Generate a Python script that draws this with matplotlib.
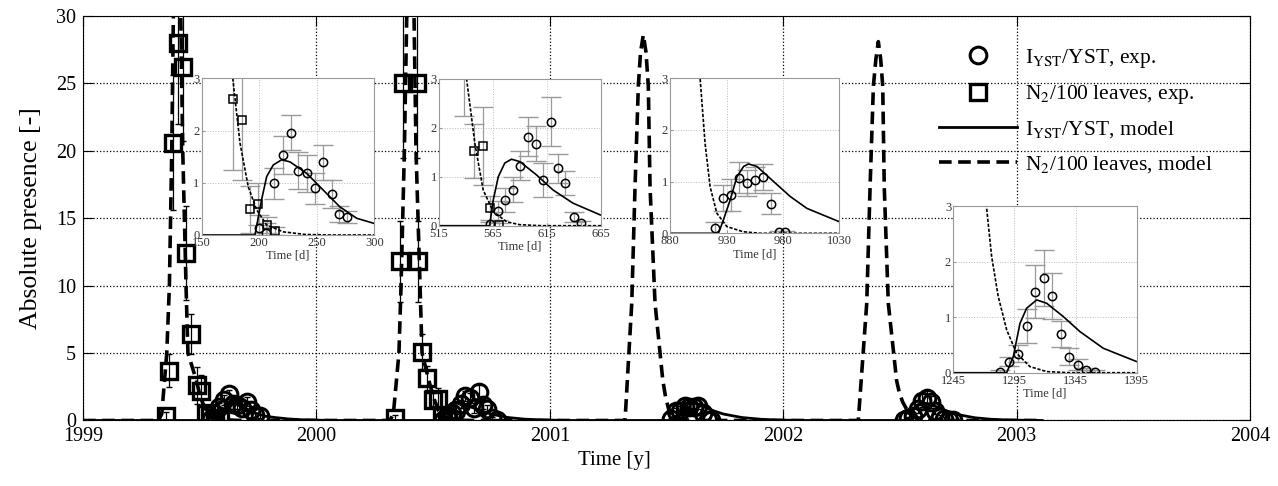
import matplotlib.pyplot as plt
import numpy as np

plt.rcParams['font.family'] = ['Liberation Serif', 'DejaVu Serif']
plt.rcParams['mathtext.fontset'] = 'stix'

# time axis of all series: days from 1 Jan 1999
# model N2/100 leaves (dashed)
n2_model_day = [0, 118, 123.1, 130.9, 135, 138.7, 141.2, 147, 152.8, 155.9, 161, 164,
                177, 183.3, 190.5, 197.8, 206.5, 220.9, 240, 260,
                480, 485.3, 494, 497.3, 502.5, 506.2, 511.4, 517.6, 520.7, 527, 530.1,
                540.6, 548.3, 556, 565.3, 577.7, 590, 610,
                847.6, 858.1, 863.2, 868.4, 871.8, 876.2, 880.4, 884, 886.7, 894.5,
                906.6, 911, 915.5, 921.4, 930.3, 944.7, 960,
                1212.4, 1225.6, 1230.8, 1236, 1239.9, 1243.7, 1247.4, 1250.6, 1253, 1259.3,
                1272.3, 1276.4, 1281.8, 1288.7, 1296.8, 1307.7, 1321.4, 1340, 1500]
n2_model = [0, 0, 0.5, 5, 10, 20, 30, 33, 30, 20, 10, 5,
            3.0, 1.76, 0.92, 0.48, 0.19, 0.06, 0.01, 0,
            0, 0.5, 5, 10, 20, 30, 33, 30, 20, 10, 5,
            3.0, 1.68, 0.73, 0.29, 0.08, 0.02, 0,
            0, 8.7, 17.3, 24.8, 27.3, 28.6, 27.3, 24.8, 17.3, 8.7,
            3.0, 1.74, 0.9, 0.39, 0.13, 0.03, 0,
            0, 8.7, 17.3, 24.8, 26.8, 28.1, 26.8, 24.8, 17.3, 8.7,
            2.96, 2.09, 1.37, 0.77, 0.35, 0.11, 0.02, 0, 0]

# model I_YST/YST (solid)
iyst_model_day = [0, 196.3, 202, 206.5, 212.2, 219.5, 226.7, 241.2, 255.6, 270, 284.7, 300,
                  320, 340, 370, 400,
                  562, 565.3, 570, 576, 582.3, 590, 605.4, 620.8, 639.4, 664.7, 690, 720, 760,
                  922.9, 927.3, 933.2, 939.2, 945.1, 949.5, 957, 971.7, 986.5, 1001.3, 1030.3,
                  1060, 1090, 1130,
                  1288.7, 1294.1, 1299.6, 1305, 1313.2, 1321.4, 1335, 1348.6, 1367.7, 1395,
                  1420, 1450, 1500]
iyst_model = [0, 0, 0.67, 1.12, 1.34, 1.44, 1.40, 1.18, 0.86, 0.54, 0.32, 0.22,
              0.12, 0.06, 0.02, 0,
              0, 0.52, 1.0, 1.28, 1.36, 1.31, 1.04, 0.73, 0.46, 0.22, 0.10, 0.04, 0,
              0, 0.26, 0.64, 1.09, 1.29, 1.34, 1.29, 1.0, 0.71, 0.48, 0.22,
              0.09, 0.03, 0,
              0, 0.29, 0.89, 1.16, 1.31, 1.25, 1.01, 0.74, 0.44, 0.20,
              0.09, 0.03, 0]

# measured N2/100 leaves
n2_day = [129.8, 134.5, 140.7, 148.6, 156.4, 161.0, 168.9, 177.5, 184.8, 192.0, 199.2, 206.5, 213.7,
          488.0, 495.7, 500.9, 521.8, 524.3, 530.1, 538.4, 547.7, 555.4, 562.0, 570.5]
n2_val = [0.3, 3.7, 20.6, 28.0, 26.2, 12.4, 6.4, 2.6, 2.2, 0.49, 0.59, 0.19, 0.08,
          0.2, 11.8, 25.0, 25.0, 11.8, 5.1, 3.15, 1.52, 1.63, 0.36, 0.01]
n2_err = [0.3, 1.2, 5.0, 6.0, 5.5, 3.5, 1.5, 1.35, 1.15, 0.45, 0.4, 0.15, 0.08,
          0.2, 3.0, 5.5, 5.5, 3.0, 1.3, 0.9, 0.55, 0.8, 0.25, 0.05]

# measured I_YST/YST
iyst_day = [200.0, 205.9, 213.1, 220.4, 227.6, 234.0, 241.2, 248.4, 255.6, 262.9, 269.3, 276.5,
            562.2, 569.9, 576.7, 583.8, 590.6, 597.7, 604.8, 611.6, 619.3, 625.5, 632.3, 640.0, 647.1,
            919.9, 926.8, 934.1, 941.2, 948.0, 955.4, 962.3, 969.3, 976.7, 982.0,
            1283.2, 1290.8, 1298.2, 1305.0, 1311.8, 1319.2, 1326.0, 1332.8, 1339.9, 1346.7, 1353.5, 1360.9]
iyst_val = [0.13, 0.03, 0.99, 1.53, 1.96, 1.23, 1.18, 0.89, 1.39, 0.79, 0.40, 0.34,
            0.03, 0.31, 0.53, 0.74, 1.23, 1.82, 1.68, 0.93, 2.13, 1.17, 0.87, 0.18, 0.05,
            0.10, 0.69, 0.74, 1.07, 0.97, 1.03, 1.08, 0.57, 0.02, 0.02,
            0.01, 0.20, 0.34, 0.84, 1.46, 1.70, 1.38, 0.70, 0.29, 0.14, 0.04, 0.02]
iyst_err = [0.25, 0.2, 0.3, 0.37, 0.33, 0.35, 0.35, 0.3, 0.33, 0.27, 0.15, 0.12,
            0.05, 0.2, 0.25, 0.25, 0.3, 0.4, 0.35, 0.35, 0.5, 0.3, 0.25, 0.1, 0.05,
            0.12, 0.25, 0.3, 0.3, 0.25, 0.25, 0.25, 0.2, 0.03, 0.03,
            0.03, 0.08, 0.15, 0.3, 0.47, 0.5, 0.42, 0.23, 0.15, 0.1, 0.05, 0.03]

inset_xticks = [[150, 200, 250, 300], [515, 565, 615, 665],
                [880, 930, 980, 1030], [1245, 1295, 1345, 1395]]
inset_rects = [[0.1578, 0.5165, 0.1351, 0.3224],
               [0.3435, 0.5356, 0.1265, 0.3019],
               [0.5243, 0.5200, 0.1325, 0.3195],
               [0.7459, 0.2331, 0.1435, 0.3430]]


def to_year(days):
    return 1999 + np.asarray(days) / 365.0


fig = plt.figure(figsize=(12.78, 4.86), dpi=100)
ax = fig.add_axes([0.0650, 0.1348, 0.9131, 0.8323])

ax.errorbar(to_year(n2_day), n2_val, yerr=n2_err, fmt='none', ecolor='k', elinewidth=0.9, capsize=2)
ax.errorbar(to_year(iyst_day), iyst_val, yerr=iyst_err, fmt='none', ecolor='k', elinewidth=0.9, capsize=2)
h_ci, = ax.plot(to_year(iyst_day), iyst_val, 'o', ms=12, mfc='none', mec='k', mew=2.2)
h_sq, = ax.plot(to_year(n2_day), n2_val, 's', ms=11, mfc='none', mec='k', mew=2.4)
h_im, = ax.plot(to_year(iyst_model_day), iyst_model, '-', color='k', lw=2)
h_nm, = ax.plot(to_year(n2_model_day), n2_model, '--', color='k', lw=2.6, dashes=(3.5, 1.8))

ax.set_xlim(1999, 2004)
ax.set_ylim(0, 30)
ax.set_xticks([1999, 2000, 2001, 2002, 2003, 2004])
ax.set_yticks([0, 5, 10, 15, 20, 25, 30])
ax.grid(True, linestyle=':', color='k', lw=0.9)
ax.tick_params(direction='in', length=7, top=True, right=True, labelsize=14.5, pad=5)
ax.set_xlabel('Time [y]', fontsize=15, labelpad=1)
ax.xaxis.set_label_coords(0.455, -0.075)
ax.set_ylabel('Absolute presence [-]', fontsize=18.5, labelpad=10)

ax.legend([h_ci, h_sq, h_im, h_nm],
          [r'I$_{\mathrm{YST}}$/YST, exp.', r'N$_2$/100 leaves, exp.',
           r'I$_{\mathrm{YST}}$/YST, model', r'N$_2$/100 leaves, model'],
          loc='upper right', bbox_to_anchor=(0.985, 0.972), frameon=False,
          fontsize=15.5, handlelength=3.6, handletextpad=0.4, labelspacing=0.62)

for ticks, rect in zip(inset_xticks, inset_rects):
    ins = fig.add_axes(rect)
    ins.set_facecolor('white')
    ins.errorbar(n2_day, n2_val, yerr=n2_err, fmt='none', ecolor='#9a9a9a', elinewidth=0.9, capsize=7.5)
    ins.errorbar(iyst_day, iyst_val, yerr=iyst_err, fmt='none', ecolor='#9a9a9a', elinewidth=0.9, capsize=7.5)
    ins.plot(iyst_model_day, iyst_model, '-', color='k', lw=1.2)
    ins.plot(n2_model_day, n2_model, '--', color='k', lw=1.2, dashes=(2, 1))
    ins.plot(n2_day, n2_val, 's', ms=5.5, mfc='none', mec='k', mew=1.1)
    ins.plot(iyst_day, iyst_val, 'o', ms=6, mfc='none', mec='k', mew=1.1)
    ins.set_xlim(ticks[0], ticks[-1])
    ins.set_ylim(0, 3)
    ins.set_xticks(ticks)
    ins.set_yticks([0, 1, 2, 3])
    ins.grid(True, linestyle=':', color='#bbbbbb', lw=0.7)
    for s in ins.spines.values():
        s.set_color('#999999')
    ins.tick_params(direction='in', length=2, color='#999999', labelsize=9,
                    labelcolor='#333333', pad=1.5)
    ins.set_xlabel('Time [d]', fontsize=9, color='#333333', labelpad=0.5)

fig.savefig('out.png', dpi=100)
